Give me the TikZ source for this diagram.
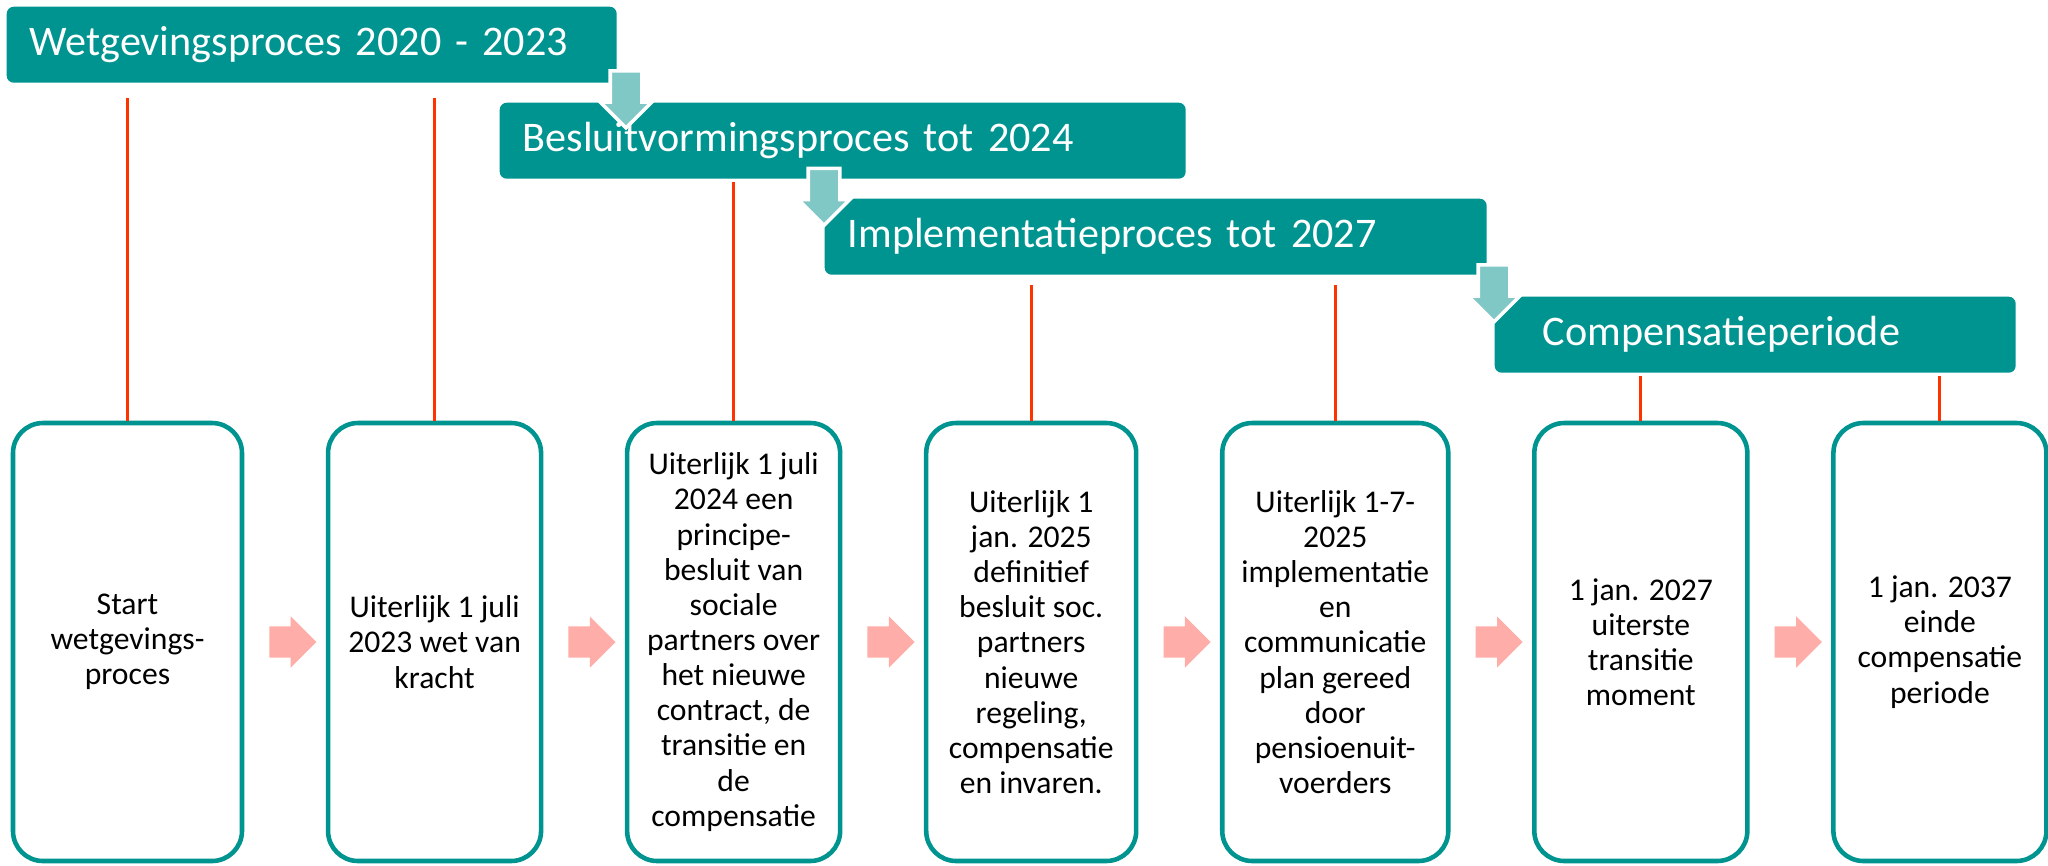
\documentclass[tikz,border=0pt]{standalone}
\usepackage{fontspec}
\setmainfont{Carlito}
\usepackage{xcolor}
\usepackage{tikz}
\usetikzlibrary{shapes.geometric, shapes.arrows, positioning, calc}

\definecolor{wgteal}{RGB}{0,148,145}
\definecolor{wglight}{RGB}{128,200,198}
\definecolor{wgred}{RGB}{255,51,0}
\definecolor{wgpink}{RGB}{255,173,168}

\begin{document}
\begin{tikzpicture}[
        node distance=0.815cm,
        phasebar/.style={rectangle, rounded corners=2pt, fill=wgteal, text=white, anchor=north west, minimum height=0.76cm, inner xsep=0.23cm, align=left, font=\fontsize{12}{14}\selectfont},
        milestone/.style={rectangle, rounded corners=0.3cm, draw=wgteal, line width=1.3pt, fill=white, minimum width=2.13cm, minimum height=4.38cm, inner sep=2pt, align=center, font=\fontsize{9}{10}\selectfont},
        stepdown/.style={single arrow, shape border rotate=270, draw=white, line width=1pt, fill=wglight, minimum height=0.57cm, inner sep=0.14cm, single arrow head extend=0.1cm, single arrow tip angle=90},
        stepright/.style={single arrow, fill=wgpink, minimum height=0.45cm, inner sep=0.15cm, single arrow head extend=0.1cm, single arrow tip angle=90},
        tick/.style={draw=wgred, line width=0.85pt}
    ]
    \useasboundingbox (0,0) rectangle (20.48,-8.65);

    % 1. Balken met de fasen (trapsgewijs)
    \node[phasebar, text width=5.64cm] (wet) at (0.06,-0.06) {Wetgevingsproces 2020 - 2023};
    \node[phasebar, text width=6.40cm] (besluit) at (4.99,-1.02) {Besluitvormingsproces tot 2024};
    \node[phasebar, text width=6.16cm] (impl) at (8.24,-1.98) {Implementatieproces tot 2027};
    \node[phasebar, text width=4.25cm, inner xsep=0.48cm] (comp) at (14.94,-2.96) {Compensatieperiode};

    % pijltjes tussen de balken
    \node[stepdown] (down1) at (6.26,-0.915) {};
    \node[stepdown] (down2) at (8.24,-1.89) {};
    \node[stepdown] (down3) at (14.94,-2.855) {};

    % 2. Mijlpalen (horizontaal naast elkaar)
    \node[milestone, minimum width=2.29cm] (start) at (1.275,-6.42) {Start\\wetgevings-\\proces};
    \node[milestone, right=of start] (kracht) {Uiterlijk 1 juli\\2023 wet van\\kracht};
    \node[milestone, right=of kracht] (principe) {Uiterlijk 1 juli\\2024 een\\principe-\\besluit van\\sociale\\partners over\\het nieuwe\\contract, de\\transitie en\\de\\compensatie};
    \node[milestone, minimum width=2.10cm, right=of principe] (definitief) {Uiterlijk 1\\jan. 2025\\definitief\\besluit soc.\\partners\\nieuwe\\regeling,\\compensatie\\en invaren.};
    \node[milestone, minimum width=2.26cm, right=of definitief] (plan) {Uiterlijk 1-7-\\2025\\implementatie\\en\\communicatie\\plan gereed\\door\\pensioenuit-\\voerders};
    \node[milestone, right=of plan] (transitie) {1 jan. 2027\\uiterste\\transitie\\moment};
    \node[milestone, right=of transitie] (einde) {1 jan. 2037\\einde\\compensatie\\periode};

    % pijlen tussen de mijlpalen
    \foreach \a/\b in {start/kracht, kracht/principe, principe/definitief, definitief/plan, plan/transitie, transitie/einde}
        \node[stepright] (to-\b) at ($(\a.east)!0.5!(\b.west)$) {};

    % 3. Rode lijntjes van balk naar mijlpaal
    \draw[tick, shorten >=0.15cm] (start.north) -- (start.north |- wet.south);
    \draw[tick, shorten >=0.15cm] (kracht.north) -- (kracht.north |- wet.south);
    \draw[tick, shorten >=0.03cm] (principe.north) -- (principe.north |- besluit.south);
    \draw[tick, shorten >=0.1cm] (definitief.north) -- (definitief.north |- impl.south);
    \draw[tick, shorten >=0.1cm] (plan.north) -- (plan.north |- impl.south);
    \draw[tick, shorten >=0.03cm] (transitie.north) -- (transitie.north |- comp.south);
    \draw[tick, shorten >=0.03cm] (einde.north) -- (einde.north |- comp.south);

\end{tikzpicture}
\end{document}
